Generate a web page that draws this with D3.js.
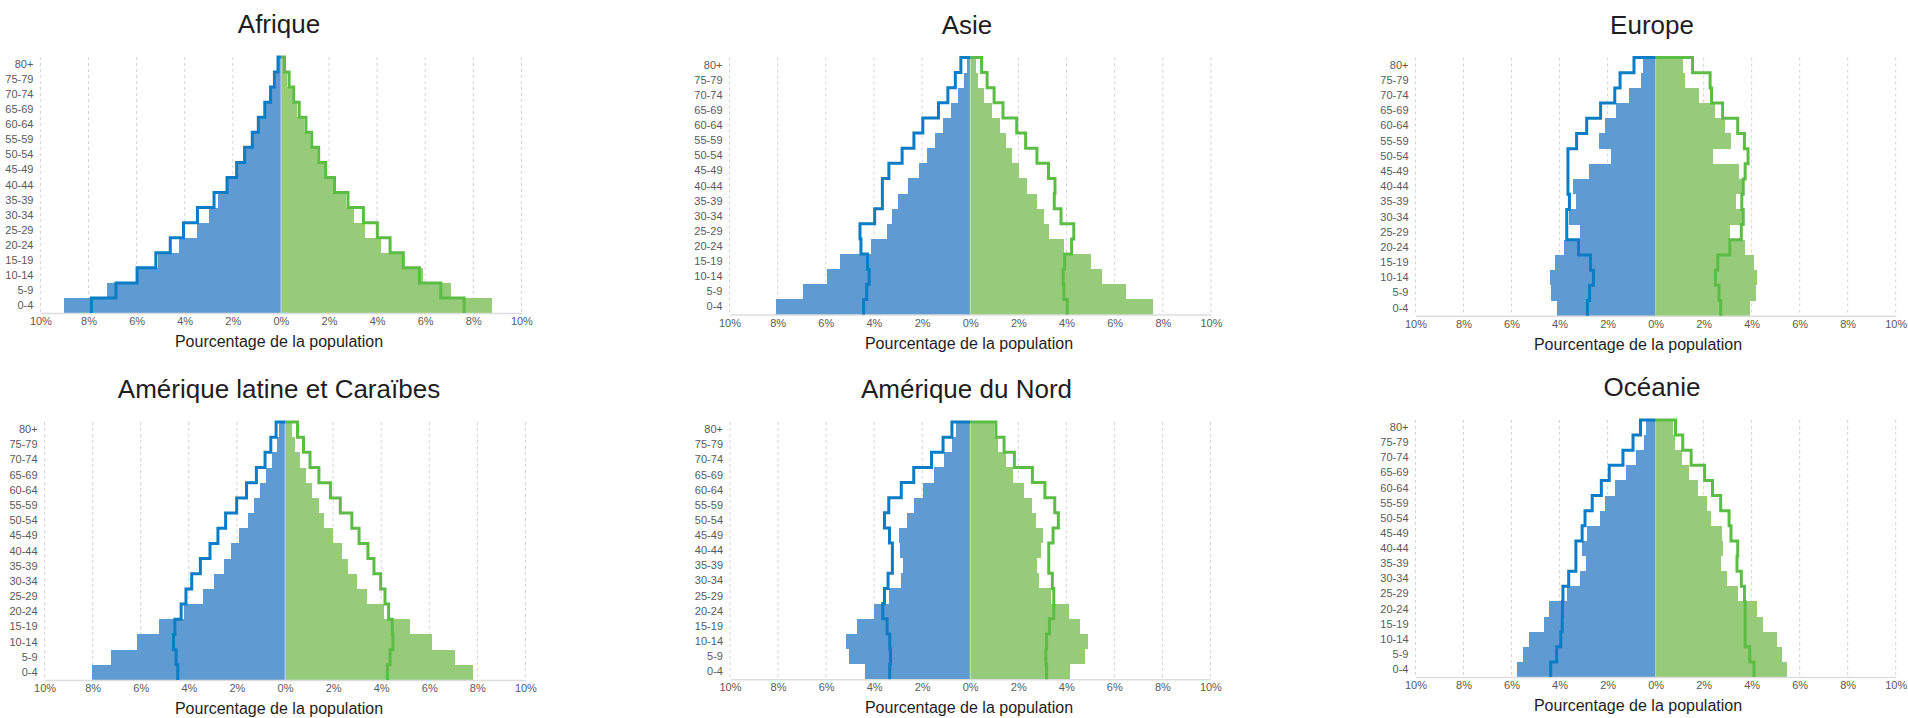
<!DOCTYPE html>
<html>
<head>
<meta charset="utf-8">
<script src="https://cdn.jsdelivr.net/npm/d3@7"></script>
<style>
  html, body { margin: 0; padding: 0; background: #fff; }
  svg { display: block; font-family: "Helvetica Neue", Helvetica, "Liberation Sans", Arial, sans-serif; }
</style>
</head>
<body>
<svg id="chart" width="1908" height="718"></svg>
<script>
// Age groups (bottom to top)
const ageGroups = ["0-4","5-9","10-14","15-19","20-24","25-29","30-34","35-39","40-44","45-49","50-54","55-59","60-64","65-69","70-74","75-79","80+"];
const xTicks = [-10,-8,-6,-4,-2,0,2,4,6,8,10];
const regionNames = ["Afrique","Asie","Europe","Amérique latine et Caraïbes","Amérique du Nord","Océanie"];
const axisTitle = "Pourcentage de la population";

// Filled bars (% of population), hommes = left/blue, femmes = right/green
const afriqueHommes = [9.01,7.23,6.04,5.11,4.22,3.50,3.00,2.63,2.23,1.81,1.47,1.17,0.89,0.62,0.40,0.21,0.07];
const afriqueFemmes = [8.78,7.08,5.91,5.05,4.17,3.49,3.04,2.69,2.20,1.82,1.50,1.20,0.95,0.68,0.46,0.27,0.10];
const asieHommes = [8.08,6.94,5.93,5.43,4.12,3.45,3.23,3.00,2.60,2.13,1.81,1.48,1.14,0.80,0.49,0.24,0.15];
const asieFemmes = [7.61,6.48,5.49,5.03,3.89,3.26,3.07,2.77,2.37,2.03,1.74,1.48,1.22,0.92,0.59,0.33,0.25];
const europeHommes = [4.12,4.34,4.40,4.19,3.80,3.14,3.62,3.32,3.42,2.78,1.87,2.35,2.10,1.66,1.09,0.60,0.51];
const europeFemmes = [3.95,4.18,4.22,4.10,3.74,3.09,3.59,3.36,3.62,3.47,2.38,3.14,2.90,2.46,1.81,1.21,1.13];
const amLatHommes = [8.01,7.24,6.17,5.25,4.21,3.42,2.94,2.54,2.26,1.92,1.55,1.31,1.03,0.79,0.52,0.34,0.27];
const amLatFemmes = [7.80,7.06,6.12,5.20,4.12,3.42,3.00,2.60,2.36,1.99,1.62,1.41,1.14,0.88,0.62,0.40,0.30];
const amNordHommes = [4.36,5.03,5.16,4.71,4.00,3.39,2.90,2.81,2.93,2.96,2.62,2.36,1.98,1.49,1.09,0.76,0.58];
const amNordFemmes = [4.16,4.80,4.91,4.59,4.12,3.38,2.86,2.78,2.96,3.03,2.74,2.56,2.26,1.78,1.49,1.14,1.00];
const oceanieHommes = [5.76,5.54,5.28,4.65,4.45,3.70,3.14,2.90,3.05,2.87,2.32,2.11,1.69,1.25,0.83,0.50,0.41];
const oceanieFemmes = [5.48,5.28,5.05,4.49,4.22,3.42,2.99,2.71,2.82,2.76,2.31,2.14,1.78,1.39,1.10,0.80,0.72];

// Outline series (% of population)
const afriqueHommesContour = [7.88,6.86,5.98,5.20,4.60,4.05,3.47,2.78,2.24,1.84,1.51,1.19,0.94,0.67,0.43,0.27,0.12];
const afriqueFemmesContour = [7.62,6.65,5.76,5.09,4.54,4.01,3.43,2.79,2.23,1.86,1.57,1.28,1.04,0.76,0.53,0.34,0.15];
const asieHommesContour = [4.43,4.30,4.20,4.27,4.54,4.58,3.97,3.65,3.65,3.38,2.83,2.34,1.97,1.32,0.93,0.62,0.39];
const asieFemmesContour = [4.03,3.89,3.86,3.92,4.21,4.30,3.77,3.49,3.52,3.25,2.77,2.30,1.93,1.36,0.99,0.70,0.47];
const europeHommesContour = [2.84,2.75,2.59,2.71,3.21,3.70,3.70,3.59,3.65,3.65,3.65,3.29,2.87,2.29,1.70,1.48,0.90];
const europeFemmesContour = [2.71,2.64,2.49,2.59,3.09,3.57,3.65,3.59,3.65,3.73,3.85,3.70,3.42,2.79,2.33,2.27,1.54];
const amLatHommesContour = [4.46,4.53,4.64,4.58,4.32,4.12,3.88,3.52,3.12,2.79,2.47,2.01,1.60,1.19,0.83,0.59,0.37];
const amLatFemmesContour = [4.26,4.37,4.49,4.46,4.31,4.16,3.98,3.70,3.45,3.08,2.78,2.30,1.89,1.41,1.04,0.77,0.52];
const amNordHommesContour = [3.35,3.32,3.35,3.46,3.64,3.57,3.42,3.24,3.24,3.36,3.57,3.39,2.87,2.35,1.61,1.13,0.76];
const amNordFemmesContour = [3.18,3.15,3.18,3.30,3.48,3.48,3.42,3.27,3.27,3.45,3.67,3.52,3.11,2.59,1.84,1.41,1.07];
const oceanieHommesContour = [4.37,4.12,3.95,3.89,3.88,3.86,3.62,3.32,3.32,3.06,2.94,2.64,2.26,1.93,1.36,0.94,0.63];
const oceanieFemmesContour = [4.10,3.92,3.73,3.73,3.73,3.70,3.57,3.39,3.42,3.14,3.06,2.71,2.37,2.04,1.48,1.13,0.83];

const hommesSeries = [afriqueHommes, asieHommes, europeHommes, amLatHommes, amNordHommes, oceanieHommes];
const femmesSeries = [afriqueFemmes, asieFemmes, europeFemmes, amLatFemmes, amNordFemmes, oceanieFemmes];
const hommesContours = [afriqueHommesContour, asieHommesContour, europeHommesContour, amLatHommesContour, amNordHommesContour, oceanieHommesContour];
const femmesContours = [afriqueFemmesContour, asieFemmesContour, europeFemmesContour, amLatFemmesContour, amNordFemmesContour, oceanieFemmesContour];

// Layout (pixel frames for each panel)
const frames = [
  {left: 40.4, right: 521.4, top: 57, bottom: 313, titleX: 279, axisX: 279},
  {left: 729.5, right: 1211, top: 57.5, bottom: 314.5, titleX: 967, axisX: 969},
  {left: 1415.5, right: 1895.7, top: 57.5, bottom: 315.7, titleX: 1652, axisX: 1638},
  {left: 44.6, right: 525.4, top: 422, bottom: 680, titleX: 279, axisX: 279},
  {left: 730, right: 1210.4, top: 422, bottom: 679.3, titleX: 966.5, axisX: 969},
  {left: 1415.5, right: 1895.7, top: 420, bottom: 677, titleX: 1652, axisX: 1638}
];

const colors = {
  barM: "#5f9bd3", barF: "#96cb79",
  lineM: "#0a7dc6", lineF: "#5cbd45",
  grid: "#d3d3d3", axis: "#dddddd", tick: "#5a5a5a", title: "#1e1e1e"
};

const svg = d3.select("#chart");

regionNames.forEach((name, i) => {
  const f = frames[i];
  const g = svg.append("g");
  const x = d3.scaleLinear().domain([-10, 10]).range([f.left, f.right]);
  const y = d3.scaleBand().domain(ageGroups.slice().reverse()).range([f.top, f.bottom]).padding(0);
  const bh = y.bandwidth();

  // grid
  g.append("g").selectAll("line").data(xTicks).join("line")
    .attr("x1", d => x(d)).attr("x2", d => x(d))
    .attr("y1", f.top).attr("y2", f.bottom)
    .attr("stroke", colors.grid).attr("stroke-width", 1)
    .attr("stroke-dasharray", "3,3");

  const rows = ageGroups.map((a, k) => ({age: a, m: hommesSeries[i][k], f: femmesSeries[i][k]}));

  // bars
  g.append("g").attr("shape-rendering", "crispEdges").selectAll("rect").data(rows).join("rect")
    .attr("x", d => x(-d.m)).attr("width", d => x(0) - x(-d.m))
    .attr("y", d => y(d.age)).attr("height", bh)
    .attr("fill", colors.barM);
  g.append("g").attr("shape-rendering", "crispEdges").selectAll("rect").data(rows).join("rect")
    .attr("x", x(0)).attr("width", d => x(d.f) - x(0))
    .attr("y", d => y(d.age)).attr("height", bh)
    .attr("fill", colors.barF);
  // faint separator at 0
  g.append("line")
    .attr("x1", x(0)).attr("x2", x(0))
    .attr("y1", y(ageGroups[ageGroups.length - 1])).attr("y2", f.bottom)
    .attr("stroke", "#fff").attr("stroke-opacity", 0.5).attr("stroke-width", 1);

  // axis line
  const xAxis = d3.axisBottom(x).tickValues(xTicks).tickSize(0).tickPadding(6)
    .tickFormat(d => Math.abs(d) + "%");
  const ax = g.append("g").attr("transform", `translate(0,${f.bottom})`).call(xAxis);
  ax.select(".domain").attr("stroke", colors.axis).attr("stroke-width", 1.5);
  ax.selectAll(".tick text").attr("fill", colors.tick)
    .style("font-size", "11px").style("font-family", "inherit")
    .attr("y", 12).attr("dy", "0");

  // y labels
  const yAxis = d3.axisLeft(y).tickSize(0).tickPadding(7);
  const ay = g.append("g").attr("transform", `translate(${f.left},0)`).call(yAxis);
  ay.select(".domain").remove();
  ay.selectAll(".tick text").attr("fill", colors.tick)
    .style("font-size", "11px").style("font-family", "inherit");

  // outlines (step lines)
  function stepPoints(vals, sign) {
    const pts = [[0, f.top]];
    for (let k = ageGroups.length - 1; k >= 0; k--) {
      const yt = y(ageGroups[k]);
      pts.push([sign * vals[k], yt]);
      pts.push([sign * vals[k], yt + bh]);
    }
    return pts;
  }
  const line = d3.line().x(p => x(p[0])).y(p => p[1]);
  g.append("path").attr("d", line(stepPoints(femmesContours[i], 1)))
    .attr("fill", "none").attr("stroke", colors.lineF).attr("stroke-width", 3)
    .attr("stroke-linejoin", "miter");
  g.append("path").attr("d", line(stepPoints(hommesContours[i], -1)))
    .attr("fill", "none").attr("stroke", colors.lineM).attr("stroke-width", 3)
    .attr("stroke-linejoin", "miter");

  // title
  g.append("text").attr("x", f.titleX).attr("y", f.top - 24)
    .attr("text-anchor", "middle").attr("fill", colors.title)
    .style("font-size", "26px").text(name);

  // axis title
  g.append("text").attr("x", f.axisX).attr("y", f.bottom + 34)
    .attr("text-anchor", "middle").attr("fill", colors.title)
    .style("font-size", "16px").text(axisTitle);
});
</script>
</body>
</html>
